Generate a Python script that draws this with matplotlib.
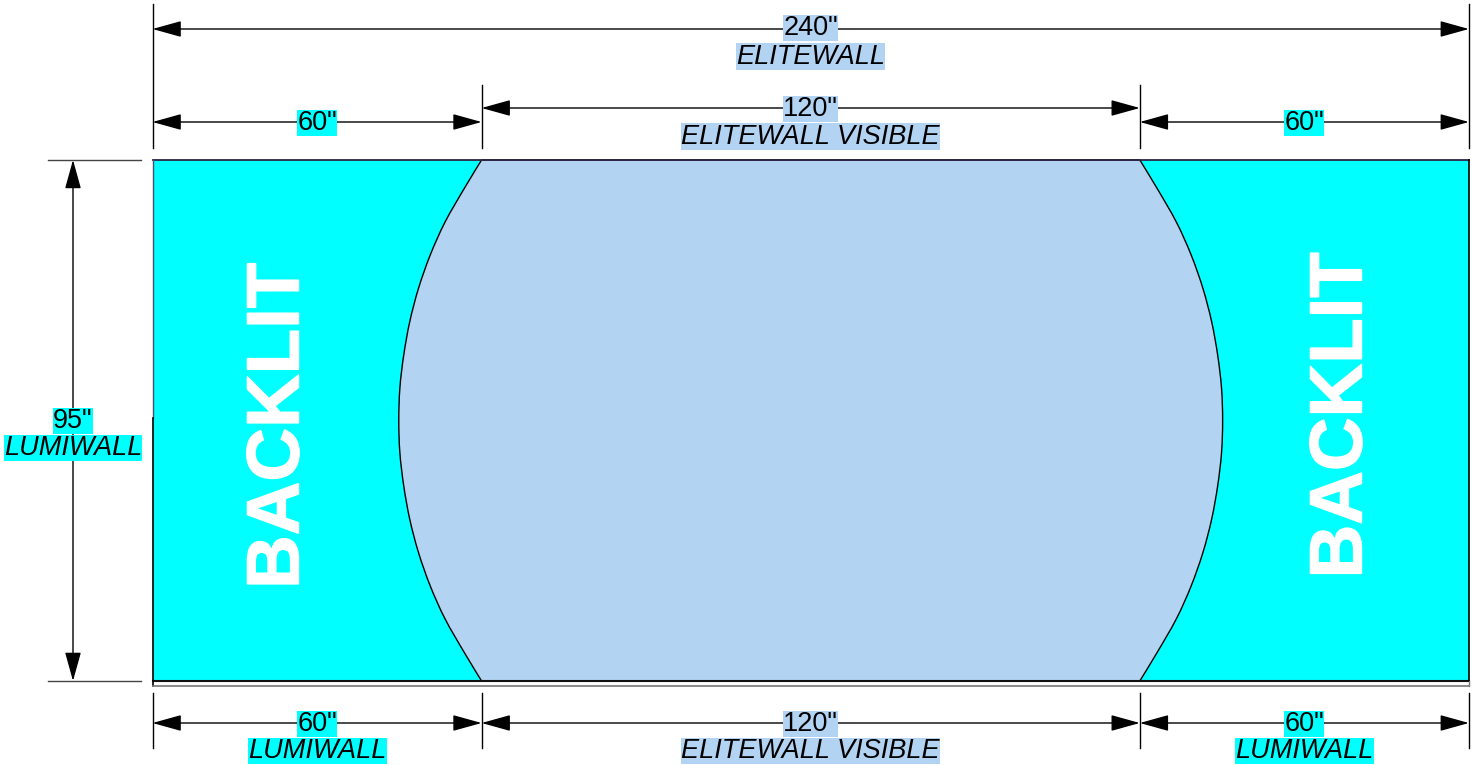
#!/bin/python3
import numpy as np
from matplotlib import pyplot as plt
from matplotlib import patheffects
from matplotlib.path import Path
from matplotlib.patches import PathPatch, Rectangle

plt.rcParams['font.family'] = ['Liberation Sans', 'DejaVu Sans']

# wall size in inches
wall_width = 240
wall_height = 95
section_widths = [60, 120, 60]

top_labels = ['60"', '120"', '60"']
top_names = [None, 'ELITEWALL VISIBLE', None]
bottom_labels = ['60"', '120"', '60"']
bottom_names = ['LUMIWALL', 'ELITEWALL VISIBLE', 'LUMIWALL']

left_curve_x = [60, 56.9, 53.35, 50.65, 48.5, 46.9, 45.8, 45.1, 44.9,
                45.1, 45.8, 46.9, 48.5, 50.65, 53.35, 56.9, 60]
curve_y = [95, 89.9, 83.7, 77.7, 71.6, 65.5, 59.4, 53.4, 47.5,
           41.6, 35.6, 29.5, 23.4, 17.3, 11.3, 5.1, 0]

CYAN = '#00ffff'
BLUE = '#b3d3f2'
PX = 5.485

fig = plt.figure(figsize=(14.79, 7.65), dpi=100)
ax = fig.add_axes([0, 0, 1, 1])
ax.set_xlim(-152.5 / PX, (1479 - 152.5) / PX)
ax.set_ylim(-(765 - 681) / PX, 681 / PX)
ax.axis('off')


def px(p):
    # pixel column in the picture -> inches from the wall's left edge
    return (p - 152.5) / PX


def py(p):
    # pixel row in the picture -> inches above the wall bottom
    return (681 - p) / PX


def dim(x0, y0, x1, y1):
    ax.annotate('', xy=(x1, y1), xytext=(x0, y0),
                arrowprops=dict(arrowstyle='<|-|>,head_length=1.8,head_width=0.5', mutation_scale=10,
                                color='black', lw=1, shrinkA=0, shrinkB=0), zorder=3)


def label(x, p, s, bg, italic=False):
    ax.text(x, py(p + 1), s, fontsize=19.5, style='italic' if italic else 'normal', ha='center', va='center',
            bbox=dict(facecolor=bg, edgecolor='none', pad=0.2), zorder=5)


def curve_path(xs, ys):
    # smooth spline through the read points
    verts = [(xs[0], ys[0])]
    codes = [Path.MOVETO]
    for i in range(len(xs) - 1):
        x0, y0 = xs[max(i - 1, 0)], ys[max(i - 1, 0)]
        x1, y1 = xs[i], ys[i]
        x2, y2 = xs[i + 1], ys[i + 1]
        x3, y3 = xs[min(i + 2, len(xs) - 1)], ys[min(i + 2, len(xs) - 1)]
        verts += [(x1 + (x2 - x0) / 6, y1 + (y2 - y0) / 6), (x2 - (x3 - x1) / 6, y2 - (y3 - y1) / 6), (x2, y2)]
        codes += [Path.CURVE4] * 3
    return verts, codes


ax.add_patch(Rectangle((0, 0), wall_width, wall_height, fc=CYAN, ec='none', zorder=1))

left_v, left_c = curve_path(left_curve_x, curve_y)
right_x = [wall_width - x for x in left_curve_x]
right_v, right_c = curve_path(right_x[::-1], curve_y[::-1])
verts = left_v + [right_v[0]] + right_v[1:] + [left_v[0]]
codes = left_c + [Path.LINETO] + right_c[1:] + [Path.LINETO]
ax.add_patch(PathPatch(Path(verts, codes), fc=BLUE, ec='black', lw=1, zorder=2))

# wall outline
ax.plot([0, wall_width], [wall_height, wall_height], color='#2e2347', lw=1.3, zorder=3)
ax.plot([0, wall_width], [0, 0], color='#111111', lw=1.5, zorder=3)
ax.plot([0, 0], [wall_height, py(418)], color='#55486e', lw=1, zorder=3)
ax.plot([0, 0], [py(418), py(686)], color='black', lw=1.2, zorder=3)
ax.plot([wall_width, wall_width], [wall_height, 0], color='black', lw=1.2, zorder=3)
ax.plot([0, wall_width], [py(686), py(686)], color='#777777', lw=1.2, zorder=3)
ax.plot([wall_width, wall_width], [0, py(686)], color='#777777', lw=1, zorder=3)

edges = np.cumsum([0] + section_widths)

# extension lines
ext = dict(color='black', lw=1, zorder=3)
ax.plot([0, 0], [py(4), py(148)], **ext)
ax.plot([wall_width, wall_width], [py(4), py(148)], **ext)
for e in edges[1:-1]:
    ax.plot([e, e], [py(85), py(148)], **ext)
for e in edges:
    ax.plot([e, e], [py(693), py(748)], **ext)
ax.plot([px(48), px(141)], [wall_height, wall_height], color='#444444', lw=1)
ax.plot([px(48), px(141)], [0, 0], color='#444444', lw=1)

# overall width
dim(0, py(29), wall_width, py(29))
label(wall_width / 2, 27, '240"', BLUE)
label(wall_width / 2, 55.5, 'ELITEWALL', BLUE, italic=True)

# top sections
top_rows = [122, 108, 122]
section_bg = [CYAN, BLUE, CYAN]
for i in range(3):
    dim(edges[i], py(top_rows[i]), edges[i + 1], py(top_rows[i]))
    mid = (edges[i] + edges[i + 1]) / 2
    label(mid, top_rows[i], top_labels[i], section_bg[i])
    if top_names[i]:
        label(mid, 135.5, top_names[i], section_bg[i], italic=True)

# bottom sections
for i in range(3):
    dim(edges[i], py(723), edges[i + 1], py(723))
    mid = (edges[i] + edges[i + 1]) / 2
    label(mid, 723, bottom_labels[i], section_bg[i])
    label(mid, 750, bottom_names[i], section_bg[i], italic=True)

# height
hx = px(73)
dim(hx, 0, hx, wall_height)
label(hx, 420, '95"', CYAN)
label(hx, 447, 'LUMIWALL', CYAN, italic=True)

# the reference lettering is a bit heavier than Liberation bold
heavier = [patheffects.withStroke(linewidth=1, foreground='white')]
ax.text(px(279), py(426), 'BACKLIT', color='white', fontsize=53.5, weight='bold', rotation=90,
        ha='center', va='center', zorder=4, path_effects=heavier)
ax.text(px(1342), py(415.5), 'BACKLIT', color='white', fontsize=53.5, weight='bold', rotation=90,
        ha='center', va='center', zorder=4, path_effects=heavier)

plt.savefig('out.png', dpi=100)
plt.close()
